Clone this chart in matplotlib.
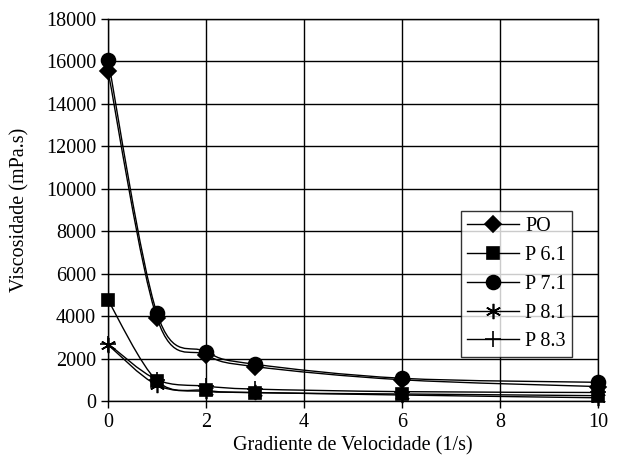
import numpy as np
import matplotlib.pyplot as plt
from matplotlib.path import Path
from matplotlib.patches import PathPatch
from matplotlib.lines import Line2D

plt.rcParams['font.family'] = ['Liberation Serif', 'DejaVu Serif']

gradiente = [0, 1, 2, 3, 6, 10]
po = [15550, 3900, 2170, 1620, 1000, 680]
p61 = [4750, 950, 500, 390, 330, 250]
p71 = [16080, 4130, 2320, 1730, 1070, 880]
p81 = [2650, 750, 450, 400, 280, 150]
p83 = [2700, 1000, 700, 560, 440, 400]

series = [
    ("PO", po, "D", 8),
    ("P 6.1", p61, "s", 9),
    ("P 7.1", p71, "o", 10),
    ("P 8.1", p81, (6, 2, 0), 11),
    ("P 8.3", p83, "+", 11),
]


def smooth_path(xs, ys):
    # Excel-like smoothed line: Catmull-Rom segments as cubic Bezier
    pts = np.column_stack([xs, ys]).astype(float)
    n = len(pts)
    verts = [pts[0]]
    codes = [Path.MOVETO]
    for i in range(n - 1):
        p0 = pts[max(i - 1, 0)]
        p1 = pts[i]
        p2 = pts[i + 1]
        p3 = pts[min(i + 2, n - 1)]
        verts += [p1 + (p2 - p0) / 6, p2 - (p3 - p1) / 6, p2]
        codes += [Path.CURVE4] * 3
    return Path(verts, codes)


fig = plt.figure(figsize=(6.19, 4.68), dpi=100)
ax = fig.add_axes([0.1745, 0.1432, 0.7915, 0.8162])

handles = []
for name, vals, mk, ms in series:
    ax.add_patch(PathPatch(smooth_path(gradiente, vals), facecolor="none",
                           edgecolor="black", lw=1.0, zorder=3))
    ax.plot(gradiente, vals, ls="none", marker=mk, ms=ms, color="black",
            mec="black", mew=1.2, zorder=4, clip_on=False)
    handles.append(Line2D([], [], color="black", lw=1.0, marker=mk, ms=ms,
                          mew=1.2, label=name))

ax.set_xlim(0, 10)
ax.set_ylim(0, 18000)
ax.set_xticks(range(0, 11, 2))
ax.set_yticks(range(0, 18001, 2000))
ax.grid(True, color="black", lw=1.0)
ax.set_axisbelow(True)
for s in ax.spines.values():
    s.set_color("black")
    s.set_linewidth(1.0)
ax.tick_params(direction="out", length=5, width=1, labelsize=14.5, colors="black")

ax.set_xlabel("Gradiente de Velocidade (1/s)", fontsize=14.5, labelpad=3)
ax.set_ylabel("Viscosidade (mPa.s)", fontsize=14.5, labelpad=12)

leg = ax.legend(handles=handles, loc="upper left",
                bbox_to_anchor=(0.7204, 0.497), fontsize=14.5, frameon=True,
                fancybox=False, shadow=False, handlelength=2.6,
                handletextpad=0.3, labelspacing=0.48, borderpad=0.3,
                borderaxespad=0)
leg.get_frame().set_edgecolor("black")
leg.get_frame().set_linewidth(1.0)

fig.savefig("out.png", dpi=100)
